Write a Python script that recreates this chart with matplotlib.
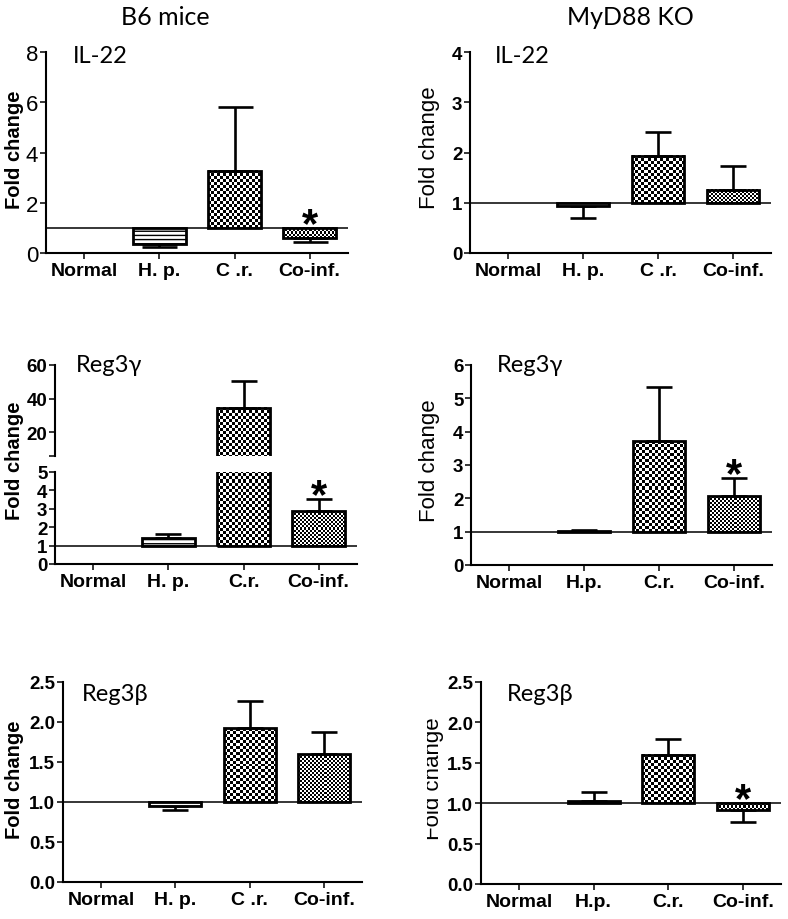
import numpy as np
import matplotlib
matplotlib.use("Agg")
import matplotlib.pyplot as plt
from matplotlib.patches import Rectangle

plt.rcParams["font.family"] = ["Liberation Sans", "DejaVu Sans"]

W, H = 788, 920

# ---- data ----
labels_b6 = ["Normal", "H. p.", "C .r.", "Co-inf."]
labels_b6_reg3g = ["Normal", "H. p.", "C.r.", "Co-inf."]
labels_ko_il22 = ["Normal", "H. p.", "C .r.", "Co-inf."]
labels_ko = ["Normal", "H.p.", "C.r.", "Co-inf."]

il22_b6 = [1, 0.35, 3.27, 0.60]
il22_b6_err = [1, 0.24, 5.82, 0.42]
il22_ko = [1, 0.94, 1.94, 1.26]
il22_ko_err = [1, 0.70, 2.40, 1.74]

reg3g_b6 = [1, 1.42, 34.5, 2.87]
reg3g_b6_err = [1, 1.62, 50.5, 3.55]
reg3g_ko = [1, 1.03, 3.73, 2.08]
reg3g_ko_err = [1, 1.05, 5.33, 2.62]

reg3b_b6 = [1, 0.95, 1.92, 1.60]
reg3b_b6_err = [1, 0.90, 2.26, 1.88]
reg3b_ko = [1, 1.03, 1.60, 0.92]
reg3b_ko_err = [1, 1.14, 1.79, 0.77]

sig_il22_b6 = [False, False, False, True]
sig_il22_ko = [False, False, False, False]
sig_reg3g_b6 = [False, False, False, True]
sig_reg3g_ko = [False, False, False, True]
sig_reg3b_b6 = [False, False, False, False]
sig_reg3b_ko = [False, False, False, True]

# fill style per group: None, horizontal lines, coarse checker, fine checker
fills = [None, "lines", 3.0, 2.0]

YT = 13.5  # bold y tick size
XT = 14    # x tick size


def px_axes(fig, x0, y0, x1, y1):
    return fig.add_axes([x0 / W, 1 - y1 / H, (x1 - x0) / W, (y1 - y0) / H])


def checker(ax, x0, x1, b, t, cell):
    p0 = ax.transData.transform((x0, b))
    p1 = ax.transData.transform((x1, t))
    nx = max(1, int(round(abs(p1[0] - p0[0]) / cell)))
    ny = max(1, int(round(abs(p1[1] - p0[1]) / cell)))
    grid = np.add.outer(np.arange(ny), np.arange(nx)) % 2
    ax.imshow(grid, cmap="gray", vmin=0, vmax=1, extent=(x0, x1, b, t),
              aspect="auto", interpolation="nearest", zorder=1)


def style_axes(ax, ylim, yticks, ytl, bold_y, ysize, show_x=True, labels=None,
               hide_bottom=False):
    ax.set_xlim(-0.51, 3.51)
    ax.set_ylim(*ylim)
    for s in ["top", "right"]:
        ax.spines[s].set_visible(False)
    for s in ["left", "bottom"]:
        ax.spines[s].set_linewidth(1.5)
    ax.set_yticks(yticks)
    ax.set_yticklabels(ytl, fontsize=ysize,
                       fontweight="bold" if bold_y else "normal")
    ax.tick_params(axis="both", direction="out", length=4, width=1.1, pad=1.5)
    if show_x:
        ax.set_xticks(range(4))
        ax.set_xticklabels(labels, fontsize=XT, fontweight="bold")
        ax.tick_params(axis="x", pad=2.5)
    else:
        ax.set_xticks([])
    if hide_bottom:
        ax.spines["bottom"].set_visible(False)


def draw_bars(ax, vals, ends, cap, width=0.7):
    for i, (v, e) in enumerate(zip(vals, ends)):
        if v == 1:
            continue
        x0, x1 = i - width / 2, i + width / 2
        if fills[i] == "lines":
            ax.bar(i, v - 1, bottom=1, width=width, facecolor="white",
                   edgecolor="black", hatch="----", linewidth=2, zorder=3)
        else:
            checker(ax, x0, x1, 1, v, fills[i])
            ax.bar(i, v - 1, bottom=1, width=width, facecolor="none",
                   edgecolor="black", linewidth=2, zorder=3)
        lo = max(v - e, 0)
        hi = max(e - v, 0)
        ax.errorbar(i, v, yerr=[[lo], [hi]], fmt="none", ecolor="black",
                    elinewidth=1.9, capsize=cap, capthick=1.9, zorder=2)
    ax.axhline(1, color="black", linewidth=1.1, zorder=4)


def add_stars(ax, vals, ends, sig):
    for i, s in enumerate(sig):
        if s:
            y = max(vals[i], ends[i], 1)
            ax.annotate("*", xy=(i, y), xytext=(0, 15 / 1.389 - 16.5),
                        textcoords="offset points", ha="center", va="baseline",
                        fontsize=30, fontweight="bold", zorder=5)


def panel(ax, labels, vals, ends, sig, ylim, yticks, ytl, bold_y, ysize, cap):
    style_axes(ax, ylim, yticks, ytl, bold_y, ysize, labels=labels)
    draw_bars(ax, vals, ends, cap)
    add_stars(ax, vals, ends, sig)
    ax.set_xlim(-0.51, 3.51)
    ax.set_ylim(*ylim)


fig = plt.figure(figsize=(W / 100, H / 100), dpi=100)

title_font = ["Lato", "DejaVu Sans"]

# column headers
fig.text(165 / W, 1 - 25 / H, "B6 mice", ha="center", va="baseline",
         fontsize=18, family=title_font)
fig.text(630 / W, 1 - 25 / H, "MyD88 KO", ha="center", va="baseline",
         fontsize=18, family=title_font)

# IL-22
ax1 = px_axes(fig, 46, 53, 348, 254)
panel(ax1, labels_b6, il22_b6, il22_b6_err, sig_il22_b6, (0, 8),
      [0, 2, 4, 6, 8], ["0", "2", "4", "6", "8"], False, 16, 12.6)

ax2 = px_axes(fig, 470, 53, 771, 254)
panel(ax2, labels_ko_il22, il22_ko, il22_ko_err, sig_il22_ko, (0, 4),
      [0, 1, 2, 3, 4], ["0", "1", "2", "3", "4"], True, YT, 9.7)

# Reg3g B6 with broken axis
ax3u = px_axes(fig, 55, 366, 357, 457)
style_axes(ax3u, (5.7, 60), [5.7, 20, 40, 60], ["", "20", "40", "60"], True, YT,
           show_x=False, hide_bottom=True)
draw_bars(ax3u, reg3g_b6, reg3g_b6_err, 9.7)
ax3u.set_xlim(-0.51, 3.51)
ax3u.set_ylim(5.7, 60)

ax3 = px_axes(fig, 55, 473, 357, 565)
panel(ax3, labels_b6_reg3g, reg3g_b6, reg3g_b6_err, sig_reg3g_b6, (0, 5),
      [0, 1, 2, 3, 4, 5], ["0", "1", "2", "3", "4", "5"], True, YT, 9.7)

ax4 = px_axes(fig, 471, 366, 772, 566)
panel(ax4, labels_ko, reg3g_ko, reg3g_ko_err, sig_reg3g_ko, (0, 6),
      list(range(7)), [str(t) for t in range(7)], True, YT, 9.7)

# Reg3b
bt = [0, 0.5, 1.0, 1.5, 2.0, 2.5]
btl = ["%.1f" % t for t in bt]
ax5 = px_axes(fig, 63, 683, 362, 883)
panel(ax5, labels_b6, reg3b_b6, reg3b_b6_err, sig_reg3b_b6, (0, 2.5),
      bt, btl, True, YT, 9.7)

ax6 = px_axes(fig, 481, 683, 781, 885)
panel(ax6, labels_ko, reg3b_ko, reg3b_ko_err, sig_reg3b_ko, (0, 2.5),
      bt, btl, True, YT, 9.7)

# panel names
names = [(73, 63, "IL-22"), (495, 63, "IL-22"), (76, 372.5, "Reg3γ"),
         (497, 372.5, "Reg3γ"), (82, 701.5, "Reg3β"), (507, 701.5, "Reg3β")]
for x, y, t in names:
    fig.text(x / W, 1 - y / H, t, ha="left", va="baseline", fontsize=17,
             family=title_font)

# y labels
ylabs = [(15, 150, True), (429, 148, False), (15, 461, True),
         (429, 461, False), (15, 780, True), (433, 779, False)]
for x, y, b in ylabs:
    fig.text(x / W, 1 - y / H, "Fold change", rotation=90, ha="center",
             va="center", fontsize=14.5 if b else 16,
             fontweight="bold" if b else "normal")

# the last label is clipped on its left side in the original
fig.patches.append(Rectangle((415 / W, 1 - 850 / H), 12.5 / W, 140 / H,
                             transform=fig.transFigure, facecolor="white",
                             edgecolor="none", zorder=10))

fig.savefig("out.png", dpi=100)
